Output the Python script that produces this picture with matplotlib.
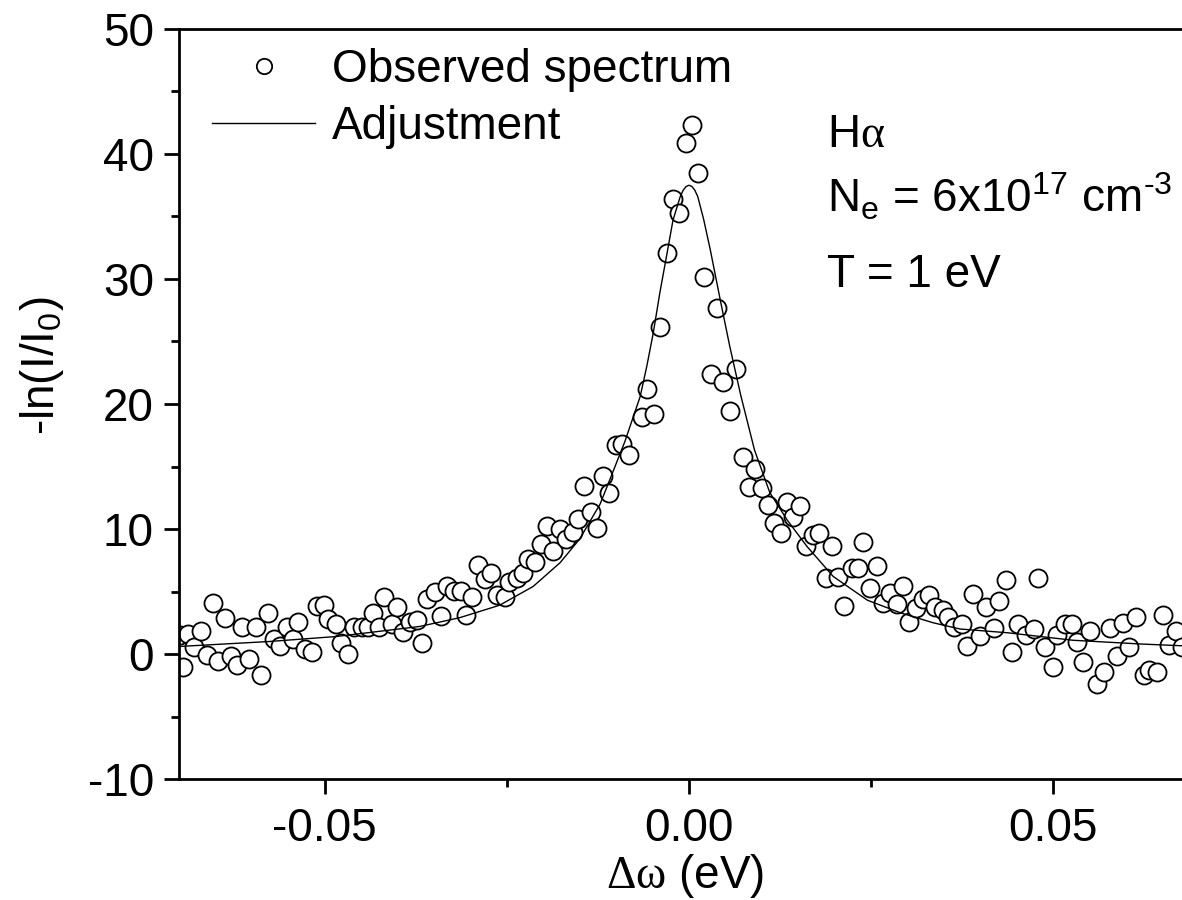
import numpy as np
import matplotlib.pyplot as plt
from matplotlib.ticker import MultipleLocator, FormatStrFormatter

plt.rcParams['font.family'] = ['Liberation Sans', 'DejaVu Sans']
plt.rcParams['mathtext.fontset'] = 'custom'
plt.rcParams['mathtext.rm'] = 'Liberation Serif'
plt.rcParams['mathtext.sf'] = 'Liberation Sans'
plt.rcParams['axes.unicode_minus'] = False

# observed spectrum, delta omega (eV) vs -ln(I/I0)
obs_x = [-0.0699, -0.0695, -0.0687, -0.0680, -0.0670, -0.0662, -0.0654, -0.0646, -0.0637, -0.0628,
         -0.0621, -0.0613, -0.0604, -0.0595, -0.0587, -0.0578, -0.0570, -0.0562, -0.0552, -0.0544,
         -0.0536, -0.0527, -0.0518, -0.0511, -0.0501, -0.0495, -0.0485, -0.0477, -0.0468, -0.0460,
         -0.0449, -0.0441, -0.0434, -0.0426, -0.0418, -0.0408, -0.0401, -0.0393, -0.0383, -0.0374,
         -0.0367, -0.0360, -0.0349, -0.0341, -0.0332, -0.0323, -0.0313, -0.0306, -0.0298, -0.0290,
         -0.0280, -0.0272, -0.0264, -0.0253, -0.0247, -0.0236, -0.0228, -0.0221, -0.0212, -0.0203,
         -0.0195, -0.0187, -0.0177, -0.0169, -0.0159, -0.0152, -0.0144, -0.0135, -0.0126, -0.0118,
         -0.0110, -0.0100, -0.0092, -0.0082, -0.0065, -0.0058, -0.0048, -0.0040, -0.0030, -0.0022,
         -0.0014, -0.0004, 0.0004, 0.0012, 0.0021, 0.0030, 0.0038, 0.0047, 0.0056, 0.0065,
         0.0074, 0.0082, 0.0091, 0.0100, 0.0109, 0.0117, 0.0126, 0.0135, 0.0143, 0.0152,
         0.0161, 0.0170, 0.0179, 0.0188, 0.0196, 0.0205, 0.0213, 0.0224, 0.0232, 0.0239,
         0.0249, 0.0258, 0.0266, 0.0276, 0.0286, 0.0294, 0.0302, 0.0312, 0.0321, 0.0330,
         0.0338, 0.0349, 0.0356, 0.0364, 0.0375, 0.0382, 0.0390, 0.0400, 0.0408, 0.0418,
         0.0426, 0.0435, 0.0444, 0.0452, 0.0462, 0.0473, 0.0479, 0.0488, 0.0499, 0.0505,
         0.0516, 0.0526, 0.0533, 0.0541, 0.0551, 0.0560, 0.0569, 0.0578, 0.0588, 0.0596,
         0.0604, 0.0614, 0.0624, 0.0632, 0.0643, 0.0651, 0.0659, 0.0669, 0.0677]
obs_y = [1.52, -1.04, 1.60, 0.56, 1.84, -0.08, 4.08, -0.56, 2.88, -0.16,
         -0.88, 2.16, -0.40, 2.16, -1.68, 3.28, 1.20, 0.64, 2.16, 1.20,
         2.56, 0.40, 0.16, 3.84, 3.92, 2.80, 2.40, 0.88, 0.00, 2.16,
         2.16, 2.16, 3.28, 2.16, 4.56, 2.40, 3.76, 1.76, 2.56, 2.72,
         0.88, 4.40, 4.96, 3.04, 5.44, 5.04, 5.04, 3.12, 4.56, 7.12,
         6.00, 6.48, 4.72, 4.56, 5.76, 6.08, 6.48, 7.60, 7.36, 8.80,
         10.24, 8.24, 10.00, 9.20, 9.76, 10.80, 13.44, 11.36, 10.08, 14.24,
         12.88, 16.72, 16.80, 15.92, 18.96, 21.20, 19.20, 26.16, 32.08, 36.40,
         35.28, 40.88, 42.32, 38.48, 30.16, 22.40, 27.68, 21.76, 19.44, 22.80,
         15.76, 13.36, 14.80, 13.28, 11.92, 10.48, 9.68, 12.16, 10.96, 11.84,
         8.64, 9.52, 9.68, 6.08, 8.64, 6.16, 3.84, 6.88, 6.88, 8.96,
         5.28, 7.04, 4.08, 4.88, 4.00, 5.44, 2.56, 3.68, 4.40, 4.72,
         3.76, 3.52, 2.96, 2.16, 2.40, 0.64, 4.80, 1.44, 3.76, 2.08,
         4.24, 5.92, 0.16, 2.40, 1.52, 2.00, 6.08, 0.56, -1.04, 1.52,
         2.40, 2.40, 0.96, -0.64, 1.84, -2.40, -1.44, 2.08, -0.16, 2.48,
         0.56, 2.96, -1.68, -1.28, -1.44, 3.12, 0.72, 1.84, 0.56]

# adjusted profile
fit_x = [-0.0700, -0.0576, -0.0484, -0.0370, -0.0315, -0.0260, -0.0214, -0.0177, -0.0150, -0.0122,
         -0.0109, -0.0088, -0.0067, -0.0058, -0.0049, -0.0040, -0.0030, -0.0022, -0.0012, -0.0008,
         -0.0004, 0.0000, 0.0004, 0.0008, 0.0012, 0.0020, 0.0029, 0.0043, 0.0056, 0.0071,
         0.0090, 0.0111, 0.0135, 0.0162, 0.0198, 0.0245, 0.0290, 0.0335, 0.0372, 0.0437,
         0.0527, 0.0620, 0.0700]
fit_y = [0.6, 1.0, 1.4, 2.2, 2.9, 3.9, 5.4, 7.3, 9.2, 12.0,
         13.9, 17.0, 20.6, 23.0, 25.7, 28.9, 32.1, 34.7, 36.6, 37.1,
         37.4, 37.5, 37.4, 37.1, 36.6, 34.8, 32.4, 28.3, 24.6, 20.7,
         16.3, 12.9, 10.7, 8.6, 6.2, 4.3, 3.3, 2.5, 2.0, 1.7,
         1.1, 0.8, 0.6]

fig = plt.figure(figsize=(11.82, 9), dpi=100)
# right edge of the frame lies past the picture border, like the original crop
ax = fig.add_axes([179 / 1182, 1 - 779 / 900, (1199 - 179) / 1182, 750 / 900])

ax.plot(obs_x, obs_y, 'o', ms=13, mfc='white', mec='black', mew=1.3, label='Observed spectrum')
ax.plot(fit_x, fit_y, '-', c='black', lw=1.0, label='Adjustment')

ax.set_xlim([-0.07, 0.07])
ax.set_ylim([-10, 50])
ax.xaxis.set_major_locator(MultipleLocator(0.05))
ax.xaxis.set_minor_locator(MultipleLocator(0.025))
ax.xaxis.set_major_formatter(FormatStrFormatter('%.2f'))
ax.yaxis.set_major_locator(MultipleLocator(10))
ax.yaxis.set_minor_locator(MultipleLocator(5))
ax.tick_params(which='both', direction='out', width=2, labelsize=33)
ax.tick_params(which='major', length=11)
ax.tick_params(which='minor', length=5.5)
ax.tick_params(axis='x', which='major', pad=9)
ax.tick_params(axis='y', which='major', pad=7)
for s in ax.spines.values():
    s.set_linewidth(2)

ax.legend(loc='upper left', bbox_to_anchor=(212 / 1182, 1 - 48 / 900), bbox_transform=fig.transFigure,
          frameon=False, fontsize=33, numpoints=1, markerscale=0.85, handlelength=2.25, handletextpad=0.37,
          labelspacing=0.28, borderpad=0, borderaxespad=0)

fig.text(827 / 1182, 1 - 147 / 900, 'H$\\mathrm{\\alpha}$', fontsize=33, va='baseline')
fig.text(827 / 1182, 1 - 212 / 900, 'N$_{\\mathsf{e}}$ = 6x10$^{\\mathsf{17}}$ cm$^{\\mathsf{\u20103}}$',
         fontsize=33, va='baseline')
fig.text(827 / 1182, 1 - 287 / 900, 'T = 1 eV', fontsize=33, va='baseline')

fig.text(685 / 1182, 1 - 876 / 900, '$\\mathrm{\\Delta\\omega}$ (eV)', fontsize=33, ha='center', va='center')
fig.text(42 / 1182, 1 - 366 / 900, '-ln(I/I$_{\\mathsf{0}}$)', fontsize=33, rotation=90,
         ha='center', va='center')

plt.savefig('out.png', dpi=100)
